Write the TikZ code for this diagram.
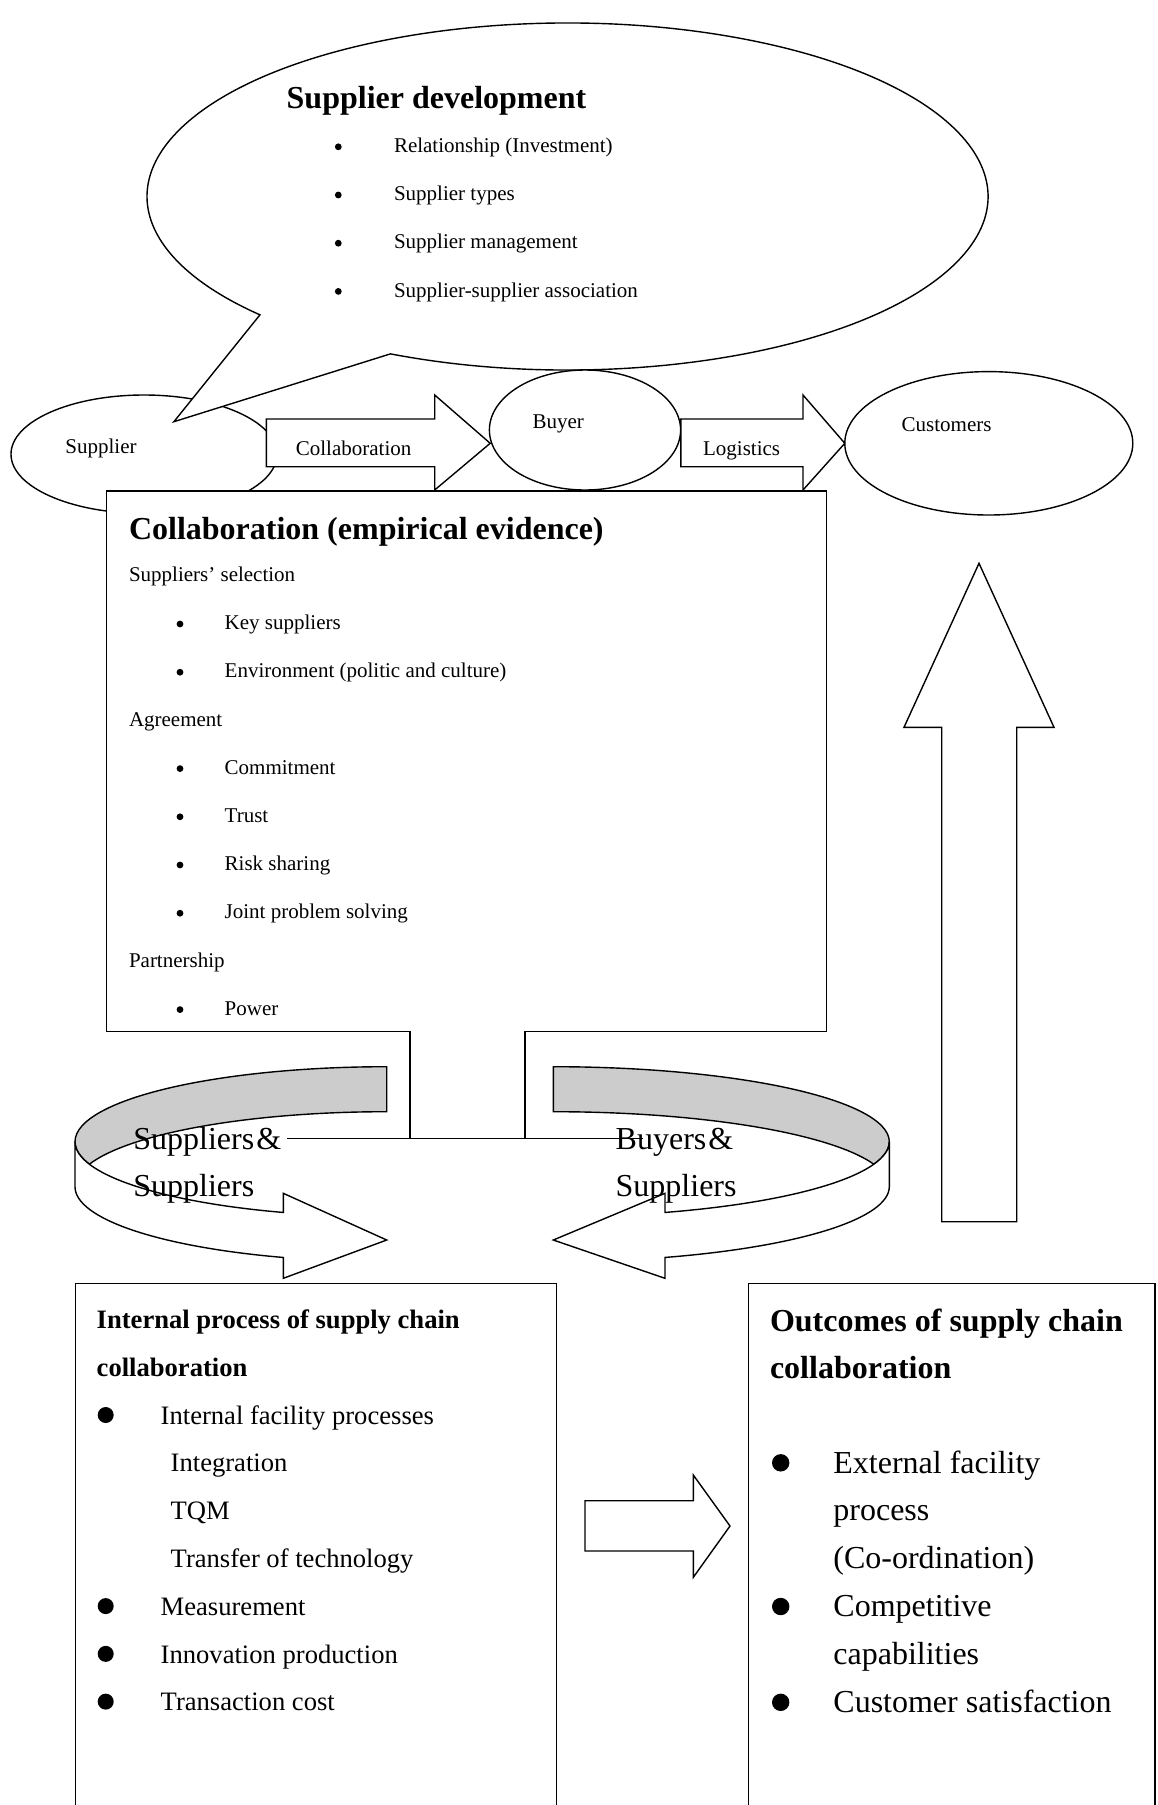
\documentclass[tikz,border=0pt]{standalone}
\usepackage{fontspec}
\setmainfont{Liberation Serif}
\usetikzlibrary{shapes.geometric,calc}
\begin{document}
\begin{tikzpicture}[x=1pt,y=1pt,line width=1.4pt,line join=miter,
  txt/.style={inner sep=0pt,anchor=base west},
  small/.style={txt,font=\fontsize{21}{25}\selectfont},
  head/.style={txt,font=\bfseries\fontsize{32}{38}\selectfont},
  midb/.style={txt,font=\bfseries\fontsize{26.6}{32}\selectfont},
  mid/.style={txt,font=\fontsize{26.6}{32}\selectfont},
  large/.style={txt,font=\fontsize{32}{38}\selectfont},
  oval/.style={draw,fill=white,ellipse,inner sep=0pt,outer sep=0pt},
  blk/.style={draw,fill=white},
  band/.style={draw,fill=gray!40},
]
\useasboundingbox (0,0) rectangle (1157,-1805);
\fill[white] (0,0) rectangle (1157,-1805);

% supplier oval, partly hidden by the callout tail and the arrow
\node[oval,minimum width=266pt,minimum height=118.4pt] (supplier) at (144,-454.2) {};

% speech bubble for supplier development
\coordinate (cc) at (567.5,-196.5);
\filldraw[blk] ($(cc)+(-114.9:420.5pt and 173.5pt)$)
  arc[start angle=-114.9,end angle=223,x radius=420.5pt,y radius=173.5pt]
  -- (173.9,-421.7) -- cycle;

% block arrow: collaboration
\filldraw[blk] (266.4,-419) -- (434.7,-419) -- (434.7,-395) -- (490.2,-443.3)
  -- (434.7,-490) -- (434.7,-466.7) -- (266.4,-466.7) -- cycle;

% buyer and customers
\node[oval,minimum width=191.2pt,minimum height=120pt] (buyer) at (585,-430) {};
\filldraw[blk] (680.8,-419) -- (803,-419) -- (803,-395) -- (844.8,-443.3)
  -- (803,-490) -- (803,-466.7) -- (680.8,-466.7) -- cycle;
\node[oval,minimum width=288pt,minimum height=143.4pt] (customers) at (988.8,-443.3) {};

% collaboration box with its lower tab
\filldraw[blk] (106.7,-491) -- (826.7,-491) -- (826.7,-1031.7) -- (525,-1031.7)
  -- (525,-1138.3) -- (410,-1138.3) -- (410,-1031.7) -- (106.7,-1031.7) -- cycle;
\draw (287,-1138.3) -- (643,-1138.3);

% curved ribbon arrow, left
\begin{scope}[shift={(386.7,-1141.7)}]
  \filldraw[band] (90:311.7pt and 75pt)
    arc[start angle=90,end angle=197.46,x radius=311.7pt,y radius=75pt]
    arc[start angle=162.54,end angle=90,x radius=311.7pt,y radius=75pt] -- cycle;
  \filldraw[blk] (180:311.7pt and 75pt)
    arc[start angle=180,end angle=250.63,x radius=311.7pt,y radius=75pt]
    -- (-103.4,-51.6) -- (0,-98.3) -- (-103.4,-136.6)
    -- ($(0,-45)+(250.63:311.7pt and 75pt)$)
    arc[start angle=250.63,end angle=180,x radius=311.7pt,y radius=75pt] -- cycle;
\end{scope}

% curved ribbon arrow, right
\begin{scope}[shift={(553.3,-1141.7)}]
  \filldraw[band] (90:336pt and 75pt)
    arc[start angle=90,end angle=-17.46,x radius=336pt,y radius=75pt]
    arc[start angle=17.46,end angle=90,x radius=336pt,y radius=75pt] -- cycle;
  \filldraw[blk] (0:336pt and 75pt)
    arc[start angle=0,end angle=-70.59,x radius=336pt,y radius=75pt]
    -- (111.7,-51.6) -- (0,-98.3) -- (111.7,-136.6)
    -- ($(0,-45)+(-70.59:336pt and 75pt)$)
    arc[start angle=-70.59,end angle=0,x radius=336pt,y radius=75pt] -- cycle;
\end{scope}

% tall up arrow towards customers
\filldraw[blk] (941.7,-1221.7) -- (941.7,-727.3) -- (904,-727.3) -- (979,-563.3)
  -- (1054,-727.3) -- (1016.7,-727.3) -- (1016.7,-1221.7) -- cycle;

% bottom boxes and the arrow between them
\draw[blk] (75.7,-1283.5) rectangle (556.7,-1830);
\draw[blk] (748.3,-1283.5) rectangle (1155,-1830);
\filldraw[blk] (585,-1500.7) -- (693.3,-1500.7) -- (693.3,-1475) -- (730,-1526)
  -- (693.3,-1577.3) -- (693.3,-1551) -- (585,-1551) -- cycle;

% labels of the chain
\node[small] (supplierlbl) at (64.7,-453.3) {Supplier};
\node[small] (collablbl) at (295.2,-455) {Collaboration};
\node[small] (buyerlbl) at (531.8,-428.3) {Buyer};
\node[small] (logilbl) at (702.4,-455) {Logistics};
\node[small] (custlbl) at (901,-431.7) {Customers};

% supplier development
\node[head] (sdhead) at (286,-108) {Supplier development};
\foreach \t [count=\i from 0] in {Relationship (Investment),Supplier types,Supplier management,Supplier-supplier association} {
  \pgfmathsetmacro\yy{-152.5-48.2*\i}
  \fill (338.3,{\yy+5.7}) circle (3.4pt);
  \node[small] (sd\i) at (393.3,\yy) {\t};
}

% collaboration evidence
\node[head] (cehead) at (128.3,-539) {Collaboration (empirical evidence)};
\foreach \b/\t [count=\i from 0] in {0/Suppliers’ selection,1/Key suppliers,1/Environment (politic and culture),0/Agreement,1/Commitment,1/Trust,1/Risk sharing,1/Joint problem solving,0/Partnership,1/Power} {
  \pgfmathsetmacro\yy{-581.5-48.2*\i}
  \ifnum\b=1
    \fill (180,{\yy+5.7}) circle (3.4pt);
    \node[small] (ce\i) at (224,\yy) {\t};
  \else
    \node[small] (ce\i) at (128.3,\yy) {\t};
  \fi
}

% ribbon captions
\node[large] (ss1) at (132.7,-1149.5) {Suppliers\kern2pt\&};
\node[large] (ss2) at (132.7,-1196.7) {Suppliers};
\node[large] (bs1) at (615,-1149.5) {Buyers\kern2pt\&};
\node[large] (bs2) at (615,-1196.7) {Suppliers};

% internal process
\node[midb] (iphead1) at (96,-1328.7) {Internal process of supply chain};
\node[midb] (iphead2) at (96,-1376.4) {collaboration};
\foreach \b/\t [count=\i from 0] in {1/Internal facility processes,0/Integration,0/TQM,0/Transfer of technology,1/Measurement,1/Innovation production,1/Transaction cost} {
  \pgfmathsetmacro\yy{-1424.2-47.77*\i}
  \ifnum\b=1
    \fill (105.7,{\yy+9.2}) circle (8pt);
    \node[mid] (ip\i) at (160,\yy) {\t};
  \else
    \node[mid] (ip\i) at (170,\yy) {\t};
  \fi
}

% outcomes
\node[head] (ochead1) at (769.3,-1331.4) {Outcomes of supply chain};
\node[head] (ochead2) at (769.3,-1378.5) {collaboration};
\foreach \b/\t [count=\i from 0] in {1/External facility,0/process,0/(Co-ordination),1/Competitive,0/capabilities,1/Customer satisfaction} {
  \pgfmathsetmacro\yy{-1473-47.9*\i}
  \ifnum\b=1
    \fill (780.7,{\yy+10.2}) circle (8.7pt);
  \fi
  \node[large] (oc\i) at (832.7,\yy) {\t};
}
\end{tikzpicture}
\end{document}
